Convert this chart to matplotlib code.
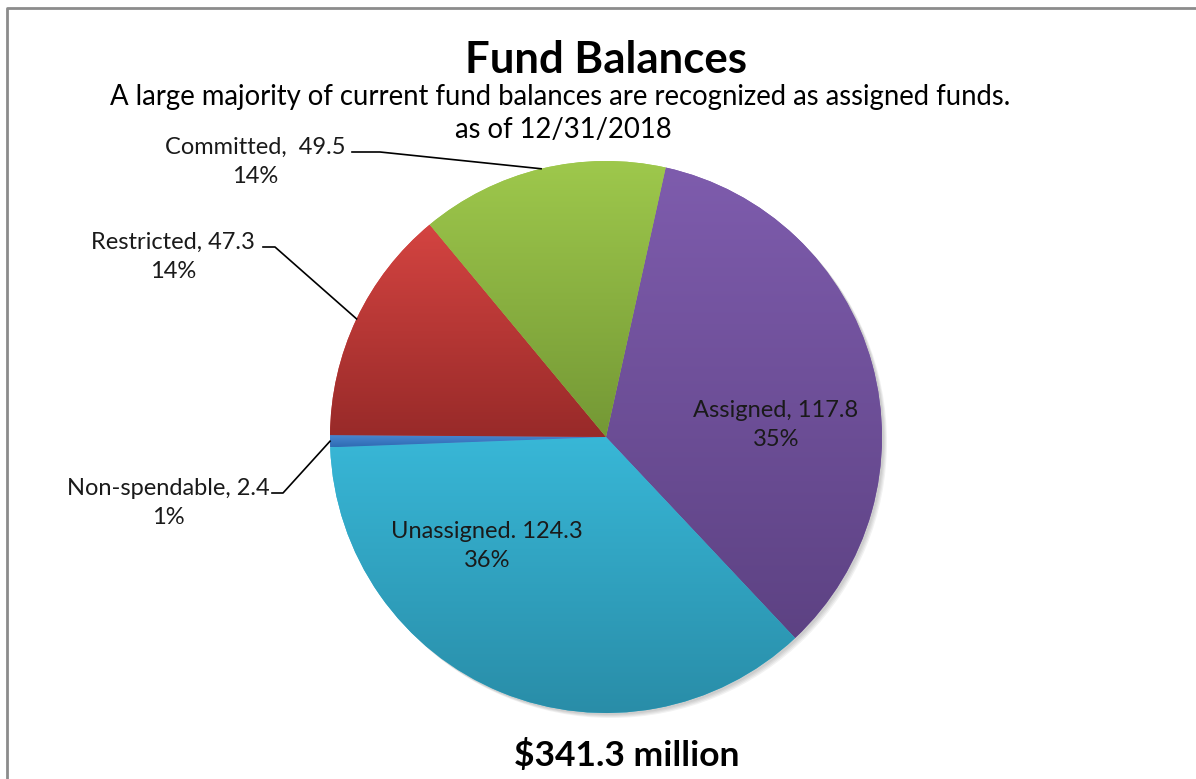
import numpy as np
import matplotlib
matplotlib.use("Agg")
import matplotlib.pyplot as plt
from matplotlib.colors import LinearSegmentedColormap

# data, in chart order (clockwise from the first slice)
labels = ["Assigned", "Unassigned", "Non-spendable", "Restricted", "Committed"]
values = [117.8, 124.3, 2.4, 47.3, 49.5]
pct_labels = [35, 36, 1, 14, 14]   # as printed on the chart
label_sep = [", ", ". ", ", ", ", ", ",  "]
top_colors = ["#7E5CAD", "#38B7D7", "#4A88D2", "#D44441", "#9EC84C"]
bottom_colors = ["#5D4283", "#298DA8", "#2E6BB3", "#982A29", "#749835"]
total_text = "$341.3 million"

plt.rcParams['font.family'] = ['Lato', 'DejaVu Sans']

W, H = 1196, 779
fig = plt.figure(figsize=(W / 100, H / 100), dpi=100)
ax = fig.add_axes([0, 0, 1, 1])
ax.set_xlim(0, W)
ax.set_ylim(0, H)
ax.set_aspect('equal')
ax.set_autoscale_on(False)
ax.axis('off')

cx, cy, r = 606, 779 - 437, 276

# soft shadow under the pie
for k in range(4):
    ax.add_patch(plt.Circle((cx + 2 + k, cy - 2 - k), r, color='black',
                            alpha=0.05, lw=0, zorder=0))

wedges, _ = ax.pie(values, center=(cx, cy), radius=r, startangle=77.5,
                   counterclock=False, colors=top_colors,
                   wedgeprops=dict(linewidth=0))
ax.set_xlim(0, W)
ax.set_ylim(0, H)

# vertical gradient for each slice
grad = np.linspace(0, 1, 256).reshape(-1, 1)
for w, c0, c1 in zip(wedges, top_colors, bottom_colors):
    bb = w.get_path().get_extents()
    cmap = LinearSegmentedColormap.from_list("g", [c1, c0])
    im = ax.imshow(grad, cmap=cmap, extent=[bb.x0, bb.x1, bb.y0, bb.y1],
                   origin='lower', aspect='auto', zorder=2,
                   interpolation='bilinear')
    im.set_clip_path(w)
ax.set_xlim(0, W)
ax.set_ylim(0, H)

texts = ["%s%s%.1f\n%d%%" % (l, s, v, p)
         for l, s, v, p in zip(labels, label_sep, values, pct_labels)]

fs = 17
# inside labels
inside = {0: (776, 779 - 425), 1: (487, 779 - 546)}
for i, (x, y) in inside.items():
    ax.text(x, y, texts[i], ha='center', va='center', fontsize=fs,
            linespacing=1.5, color='#1a1a1a', zorder=5)

# outside labels with leader lines
outside = {4: ((255, 779 - 162), (352, 380)),
           3: ((173, 779 - 257), (263, 275)),
           2: ((168, 779 - 503), (272, 283))}
for i, ((x, y), (lx0, lx1)) in outside.items():
    ax.text(x, y, texts[i], ha='center', va='center', fontsize=fs,
            linespacing=1.5, color='#1a1a1a', zorder=5)
    w = wedges[i]
    mid = np.deg2rad((w.theta1 + w.theta2) / 2)
    ex, ey = cx + r * np.cos(mid), cy + r * np.sin(mid)
    ly = y + 10
    ax.plot([lx0, lx1, ex], [ly, ly, ey], color='black', lw=1.2, zorder=4)

ax.text(606, 779 - 60, "Fund Balances", ha='center', va='center',
        fontsize=31.5, fontweight='bold')
ax.text(560, 779 - 97,
        "A large majority of current fund balances are recognized as assigned funds.",
        ha='center', va='center', fontsize=19.8)
ax.text(563, 779 - 130, "as of 12/31/2018", ha='center', va='center',
        fontsize=19.8)
ax.text(627, 779 - 755, total_text, ha='center', va='center',
        fontsize=25.5, fontweight='bold')

# chart border
ax.plot([7, 7, W + 5], [-5, 779 - 8, 779 - 8], color='#8c8c8c', lw=2,
        clip_on=False)

fig.savefig("out.png", dpi=100)
